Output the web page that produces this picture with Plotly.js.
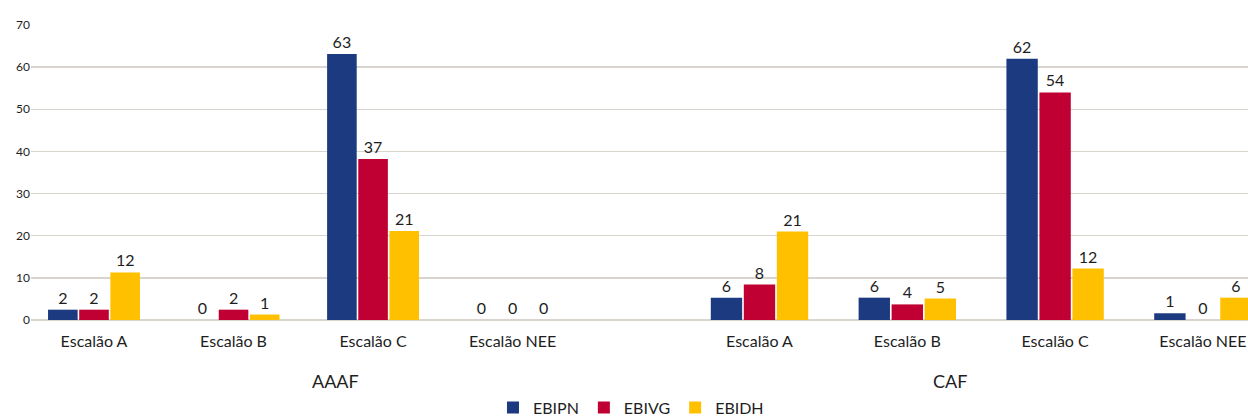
<!DOCTYPE html>
<html>
<head>
<meta charset="utf-8">
<script src="https://cdn.plot.ly/plotly-3.0.1.min.js"></script>
<style>
  html, body { margin: 0; padding: 0; background: #ffffff; }
  #chart { width: 1248px; height: 416px; }
</style>
</head>
<body>
<div id="chart"></div>
<script>
// Categories
const categories = ["Escalão A", "Escalão B", "Escalão C", "Escalão NEE"];
const groups = ["AAAF", "CAF"];
const seriesNames = ["EBIPN", "EBIVG", "EBIDH"];

// Bar heights (AAAF then CAF)
const ebipnAAAF = [2.45, 0, 63.1, 0];
const ebivgAAAF = [2.45, 2.45, 38.2, 0];
const ebidhAAAF = [11.3, 1.3, 21.1, 0];
const ebipnCAF = [5.3, 5.3, 62.0, 1.6];
const ebivgCAF = [8.4, 3.7, 54.0, 0];
const ebidhCAF = [21.0, 5.1, 12.2, 5.3];

// Data labels as printed on the chart
const ebipnAAAFLabels = ["2", "0", "63", "0"];
const ebivgAAAFLabels = ["2", "2", "37", "0"];
const ebidhAAAFLabels = ["12", "1", "21", "0"];
const ebipnCAFLabels = ["6", "6", "62", "1"];
const ebivgCAFLabels = ["8", "4", "54", "0"];
const ebidhCAFLabels = ["21", "5", "12", "6"];

// Y axis ticks
const yTicks = [0, 10, 20, 30, 40, 50, 60, 70];

const colors = ["#1B3A7F", "#C00032", "#FFC000"];
const FONT = "Lato, 'Open Sans', sans-serif";
const TXT = "#1e1e1e";

function bar(name, idx, xs, ys, labels, xa, showleg) {
  return {
    type: "bar",
    name: name,
    x: xs,
    y: ys,
    text: labels,
    textposition: "outside",
    cliponaxis: false,
    textfont: { family: FONT, size: 16, color: TXT },
    marker: { color: colors[idx], line: { width: 0 } },
    xaxis: xa,
    yaxis: "y",
    legendgroup: name,
    showlegend: showleg,
    hoverinfo: "skip"
  };
}

const data = [
  bar(seriesNames[0], 0, categories, ebipnAAAF, ebipnAAAFLabels, "x", true),
  bar(seriesNames[1], 1, categories, ebivgAAAF, ebivgAAAFLabels, "x", true),
  bar(seriesNames[2], 2, categories, ebidhAAAF, ebidhAAAFLabels, "x", true),
  bar(seriesNames[0], 0, categories, ebipnCAF, ebipnCAFLabels, "x2", false),
  bar(seriesNames[1], 1, categories, ebivgCAF, ebivgCAFLabels, "x2", false),
  bar(seriesNames[2], 2, categories, ebidhCAF, ebidhCAFLabels, "x2", false)
];

const split = 0.5004;

const xCommon = {
  type: "category",
  showgrid: false,
  zeroline: false,
  showline: false,
  ticks: "",
  ticklabelstandoff: 10,
  automargin: false,
  tickfont: { family: FONT, size: 16, color: TXT },
  fixedrange: true
};

const layout = {
  width: 1248,
  height: 416,
  margin: { l: 31, r: 0, t: 25, b: 96, autoexpand: false },
  paper_bgcolor: "#ffffff",
  plot_bgcolor: "#ffffff",
  barmode: "group",
  bargap: 0.33,
  bargroupgap: 0.05,
  font: { family: FONT, color: TXT },
  xaxis: Object.assign({}, xCommon, {
    domain: [0, split],
    range: [-0.4515, 3.913],
    anchor: "y"
  }),
  xaxis2: Object.assign({}, xCommon, {
    domain: [split, 1],
    range: [-0.8085, 3.305],
    anchor: "y"
  }),
  yaxis: {
    range: [0, 70],
    tickvals: yTicks,
    ticktext: yTicks.map(String),
    showgrid: true,
    gridcolor: "#D9D4CE",
    gridwidth: 1.5,
    zeroline: true,
    zerolinecolor: "#D9D4CE",
    zerolinewidth: 1.5,
    showline: false,
    ticks: "",
    automargin: false,
    tickfont: { family: FONT, size: 12, color: TXT },
    fixedrange: true
  },
  legend: {
    orientation: "h",
    x: 0.493,
    xanchor: "center",
    yref: "container",
    y: 0.02,
    yanchor: "middle",
    font: { family: FONT, size: 16, color: TXT },
    itemwidth: 30,
    traceorder: "normal"
  },
  annotations: [
    {
      text: groups[0], xref: "paper", yref: "paper",
      x: split / 2, y: -0.207, xanchor: "center", yanchor: "middle",
      showarrow: false, font: { family: FONT, size: 18, color: TXT }
    },
    {
      text: groups[1], xref: "paper", yref: "paper",
      x: 0.755, y: -0.207, xanchor: "center", yanchor: "middle",
      showarrow: false, font: { family: FONT, size: 18, color: TXT }
    }
  ]
};

Plotly.newPlot("chart", data, layout, { displayModeBar: false, staticPlot: true });
</script>
</body>
</html>
